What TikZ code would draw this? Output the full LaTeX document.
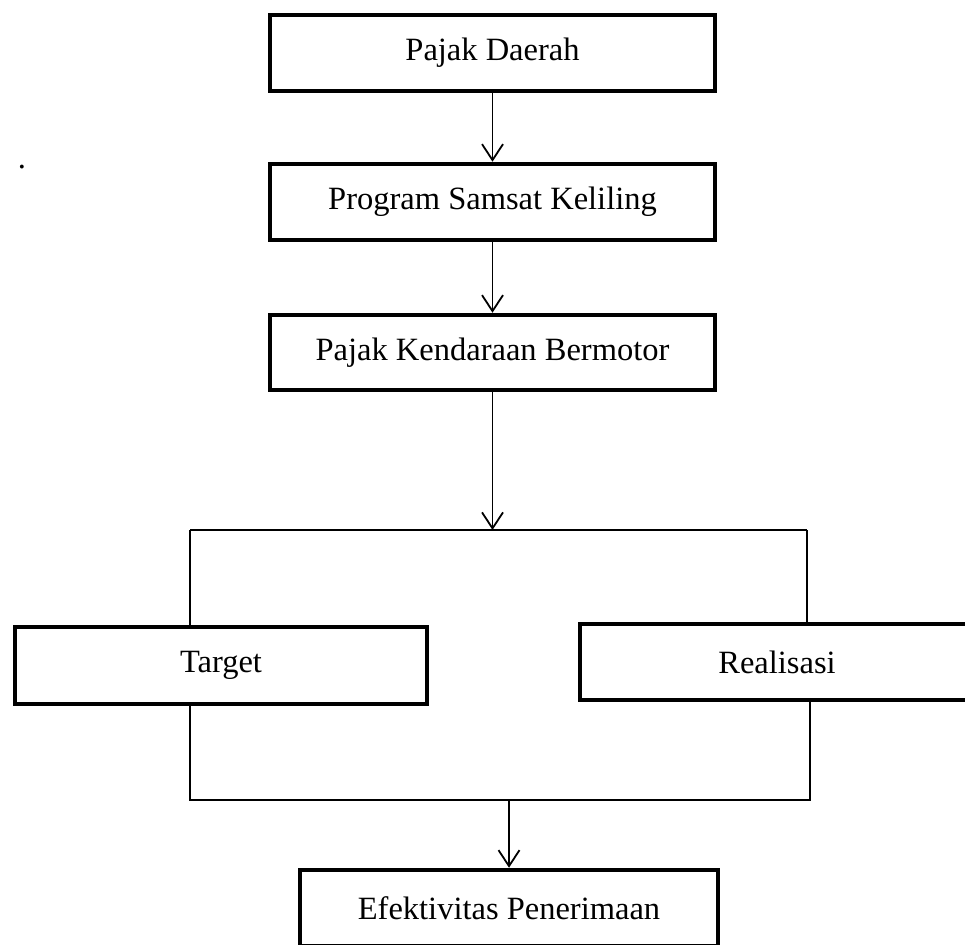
\documentclass[tikz,border=0pt]{standalone}
\usepackage{fontspec}
\setmainfont{Liberation Serif}
\usetikzlibrary{calc}
\usetikzlibrary{arrows.meta}

\begin{document}
\begin{tikzpicture}[x=1pt, y=-1pt,
  kotak/.style={draw, line width=4.5pt, minimum height=76pt, inner sep=0pt,
    font=\fontsize{32.5}{38}\selectfont},
  panah/.style={line width=1.8pt, -{Straight Barb[length=16pt, width=21pt, line width=1.8pt]}},
  garis/.style={line width=1.4pt}]
  \useasboundingbox (0,0) rectangle (965,944);
  \clip (0,0) rectangle (965,944);
  \node [kotak, minimum width=445pt] (daerah) at (492.5,53) {Pajak Daerah};
  \node [kotak, minimum width=445pt] (samsat) at (492.5,202) {Program Samsat Keliling};
  \node [kotak, minimum width=445pt, minimum height=75pt] (kendaraan) at (492.5,352.5) {Pajak Kendaraan Bermotor};
  \node [kotak, minimum width=412pt, minimum height=77pt] (target) at (221,665.5) {Target};
  \node [kotak, minimum width=394pt] (realisasi) at (777,662) {Realisasi};
  \node [kotak, minimum width=418pt] (efektif) at (509,908) {Efektivitas Penerimaan};
  \node [font=\fontsize{32.5}{38}\selectfont, inner sep=0pt] (titik) at (22,167) {.};

  \coordinate (atas) at (492.5,530);
  \coordinate (kiriatas) at (190,530);
  \coordinate (kananatas) at (807,530);
  \coordinate (kiribawah) at (190,800);
  \coordinate (kananbawah) at (810,800);
  \coordinate (bawah) at (509,800);

  \draw [panah] (daerah) -- (samsat);
  \draw [panah] (samsat) -- (kendaraan);
  \draw [panah] (kendaraan) -- (atas);
  \draw [garis] (kiriatas) -- (kananatas);
  \draw [garis] (kiriatas) -- (kiriatas |- target.north);
  \draw [garis] (kananatas) -- (kananatas |- realisasi.north);
  \draw [garis] (kiribawah |- target.south) -- (kiribawah) -- (kananbawah) -- (kananbawah |- realisasi.south);
  \draw [panah] (bawah) -- (efektif);
\end{tikzpicture}
\end{document}
